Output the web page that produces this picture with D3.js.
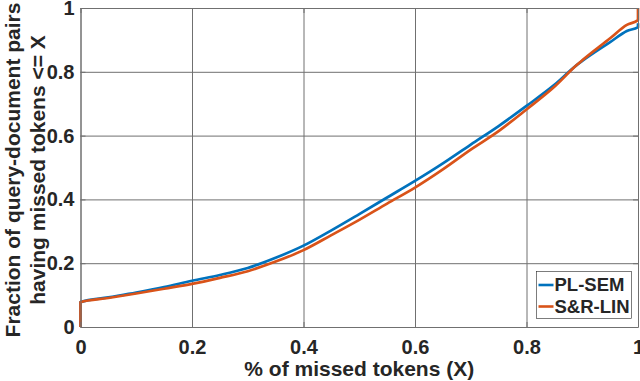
<!DOCTYPE html>
<html>
<head>
<meta charset="utf-8">
<script src="https://cdn.jsdelivr.net/npm/d3@7"></script>
<style>
    body { margin: 0; background: #fff; }
    text { font-family: "Liberation Sans", Arial, sans-serif; font-weight: bold; fill: #262626; }
</style>
</head>
<body>
<div id="chart"></div>
<script>
// data
var missed = [0, 0, 0.05, 0.1, 0.15, 0.2, 0.25, 0.3, 0.35, 0.4, 0.45, 0.5, 0.55, 0.6, 0.65, 0.7, 0.75, 0.8, 0.85, 0.89, 0.9, 0.95, 0.98, 1, 1];
var plSem = [0, 0.078, 0.093, 0.108, 0.125, 0.145, 0.163, 0.185, 0.217, 0.255, 0.303, 0.354, 0.406, 0.458, 0.513, 0.572, 0.630, 0.693, 0.759, 0.821, 0.834, 0.893, 0.928, 0.94, 0.952];
var srLin = [0, 0.078, 0.091, 0.105, 0.12, 0.135, 0.154, 0.175, 0.205, 0.241, 0.288, 0.336, 0.387, 0.437, 0.494, 0.556, 0.614, 0.682, 0.753, 0.821, 0.836, 0.905, 0.947, 0.962, 1];
var seriesNames = ["PL-SEM", "S&R-LIN"];
var seriesColors = ["#0072BD", "#D95319"];
var ticks = [0, 0.2, 0.4, 0.6, 0.8, 1];

var svgWidth = 640;
var svgHeight = 381;
var margin = { top: 8, right: 2, bottom: 54, left: 80.5 };
var chartWidth = svgWidth - margin.left - margin.right;
var chartHeight = svgHeight - margin.top - margin.bottom;

var svg = d3.select("#chart").append("svg")
    .attr("width", svgWidth)
    .attr("height", svgHeight);

var chartGroup = svg.append("g")
    .attr("transform", `translate(${margin.left}, ${margin.top})`);

var xScale = d3.scaleLinear().domain([0, 1]).range([0, chartWidth]);
var yScale = d3.scaleLinear().domain([0, 1]).range([chartHeight, 0]);

// grid
chartGroup.append("g")
    .attr("transform", `translate(0, ${chartHeight})`)
    .call(d3.axisBottom(xScale).tickValues(ticks).tickSize(-chartHeight).tickFormat(""))
    .call(g => g.select(".domain").remove())
    .selectAll("line").attr("stroke", "#ebebeb");
chartGroup.append("g")
    .call(d3.axisLeft(yScale).tickValues(ticks).tickSize(-chartWidth).tickFormat(""))
    .call(g => g.select(".domain").remove())
    .selectAll("line").attr("stroke", "#ebebeb");

// lines
var line = d3.line()
    .x((d, i) => xScale(missed[i]))
    .y(d => yScale(d))
    .curve(d3.curveMonotoneX);

[plSem, srLin].forEach(function(vals, i) {
    chartGroup.append("path")
        .datum(vals)
        .attr("fill", "none")
        .attr("stroke", seriesColors[i])
        .attr("stroke-width", 2.7)
        .attr("stroke-linejoin", "round")
        .attr("d", line);
});

// axes (ticks inside)
var fmt = d => d === 0 || d === 1 ? d3.format("d")(d) : d3.format(".1f")(d);
chartGroup.append("g")
    .attr("transform", `translate(0, ${chartHeight})`)
    .call(d3.axisBottom(xScale).tickValues(ticks).tickSizeInner(-5).tickSizeOuter(0).tickPadding(13).tickFormat(fmt));
chartGroup.append("g")
    .call(d3.axisLeft(yScale).tickValues(ticks).tickSizeInner(-5).tickSizeOuter(0).tickPadding(6).tickFormat(fmt));
chartGroup.append("g")
    .call(d3.axisTop(xScale).tickValues(ticks).tickSizeInner(-5).tickSizeOuter(0).tickFormat(""));
chartGroup.append("g")
    .attr("transform", `translate(${chartWidth}, 0)`)
    .call(d3.axisRight(yScale).tickValues(ticks).tickSizeInner(-5).tickSizeOuter(0).tickFormat(""));

chartGroup.selectAll(".domain, .tick line").attr("stroke", "#707070");
chartGroup.selectAll(".tick text")
    .style("font-size", "20px")
    .attr("fill", "#262626");

// axis labels
svg.append("text")
    .attr("x", margin.left + chartWidth / 2)
    .attr("y", 376)
    .attr("text-anchor", "middle")
    .style("font-size", "21px")
    .text("% of missed tokens (X)");

var yLabelGroup = svg.append("g")
    .attr("transform", "translate(0, 170) rotate(-90)");
yLabelGroup.append("text")
    .attr("x", 0)
    .attr("y", 20)
    .attr("text-anchor", "middle")
    .style("font-size", "21px")
    .text("Fraction of query-document pairs");
yLabelGroup.append("text")
    .attr("x", 0)
    .attr("y", 45)
    .attr("text-anchor", "middle")
    .style("font-size", "21px")
    .text("having missed tokens <= X");

// legend
var legend = svg.append("g").attr("transform", "translate(536.5, 271.5)");
legend.append("rect")
    .attr("width", 95)
    .attr("height", 47)
    .attr("fill", "#fff")
    .attr("stroke", "#262626")
    .attr("stroke-width", 0.6);
seriesNames.forEach(function(name, i) {
    var y = 13.5 + i * 21.5;
    legend.append("line")
        .attr("x1", 2).attr("x2", 17)
        .attr("y1", y).attr("y2", y)
        .attr("stroke", seriesColors[i])
        .attr("stroke-width", 2.6);
    legend.append("text")
        .attr("x", 18)
        .attr("y", y)
        .attr("dy", "0.35em")
        .style("font-size", "18.5px")
        .text(name);
});
</script>
</body>
</html>
